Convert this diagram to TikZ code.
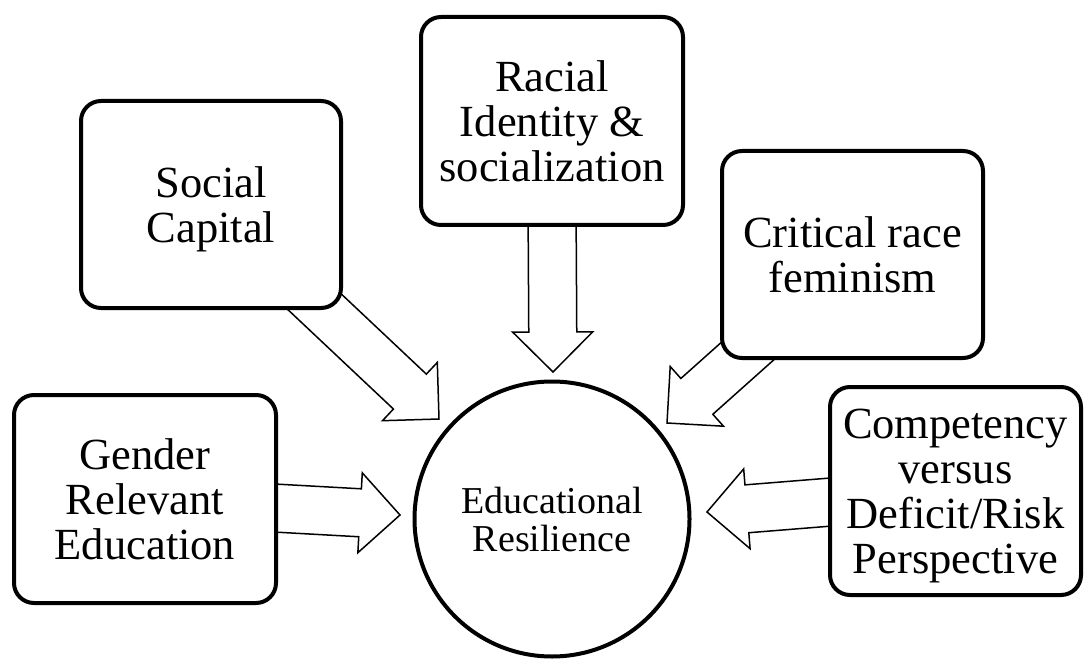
\documentclass[tikz,border=0pt]{standalone}
\usepackage{fontspec}
\setmainfont{Liberation Serif}
\usetikzlibrary{calc,backgrounds}
\tikzset{
  box/.style={draw=black, line width=4pt, rounded corners=20pt, fill=white,
    inner sep=0pt, outer sep=0pt, align=center, text depth=0pt,
    font=\fontsize{44.5}{45}\selectfont},
  ring/.style={draw=black, line width=4pt, circle, fill=white, inner sep=0pt,
    outer sep=0pt, align=center, text depth=-8pt, font=\fontsize{38}{38}\selectfont},
  blockline/.style={draw=black, line width=1.5pt, fill=white, line join=miter},
}
\newcommand{\blockarrow}[2]{%
  \coordinate (ba-n) at ($(#2)!40pt!(#1)$);
  \draw[blockline] ($(#1)!24pt!90:(#2)$) -- ($(ba-n)!24pt!90:(#2)$) --
    ($(ba-n)!40pt!90:(#2)$) -- (#2) -- ($(ba-n)!40pt!-90:(#2)$) --
    ($(ba-n)!24pt!-90:(#2)$) -- ($(#1)!24pt!-90:(#2)$) -- cycle;}
\begin{document}
\begin{tikzpicture}[x=1pt,y=-1pt]
\useasboundingbox (0,0) rectangle (1086,660);
\node[box, minimum width=260pt, minimum height=207pt] (social) at (211,204.5) {Social\\Capital};
\node[box, minimum width=262pt, minimum height=208pt] (racial) at (552,121) {Racial\\Identity \&\\socialization};
\node[box, minimum width=261pt, minimum height=207pt, text depth=-11pt] (crit) at (852.5,254.5) {Critical race\\feminism};
\node[box, minimum width=262pt, minimum height=208pt] (gender) at (145,499) {Gender\\Relevant\\Education};
\node[box, minimum width=251pt, minimum height=208pt, text depth=-12pt] (comp) at (955.5,491) {Competency\\versus\\Deficit/Risk\\Perspective};
\node[ring, minimum size=275pt] (res) at (552,519) {Educational\\Resilience};
% arrow ends
\coordinate (s1) at ($(social.center)!0.85!(318,305)$);
\coordinate (t1) at (439,419);
\coordinate (s2) at ($(racial.center)+(0,80)$);
\coordinate (t2) at (553,372);
\coordinate (s3) at (760,340);
\coordinate (t3) at (667,423);
\coordinate (s4) at ($(gender.east)+(-20,8)$);
\coordinate (t4) at (400,515);
\coordinate (s5) at ($(comp.west)+(20,9.5)$);
\coordinate (t5) at (707,512);
\begin{scope}[on background layer]
\blockarrow{s1}{t1}
\blockarrow{s2}{t2}
\blockarrow{s3}{t3}
\blockarrow{s4}{t4}
\blockarrow{s5}{t5}
\end{scope}
\end{tikzpicture}
\end{document}
